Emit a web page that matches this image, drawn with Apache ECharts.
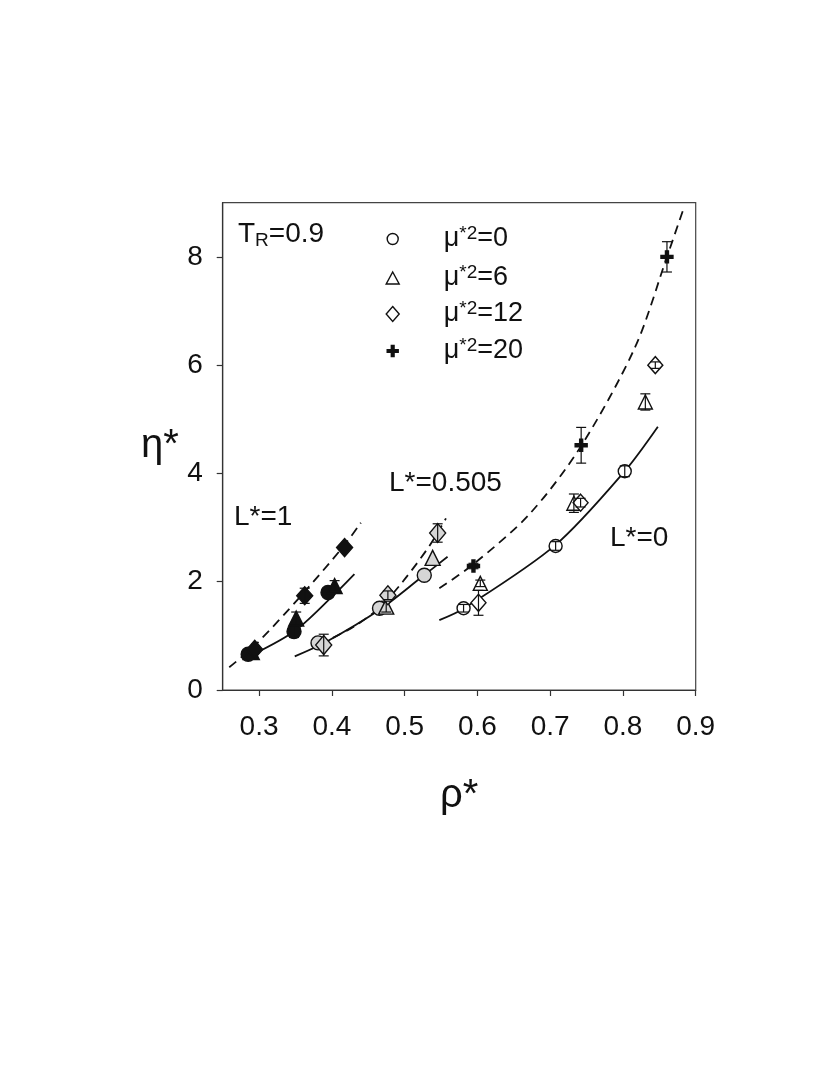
<!DOCTYPE html>
<html>
<head>
<meta charset="utf-8">
<script src="https://cdn.jsdelivr.net/npm/echarts@6/dist/echarts.min.js"></script>
<style>
html,body{margin:0;padding:0;background:#fff;}
#chart{width:817px;height:1090px;}
</style>
</head>
<body>
<div id="chart"></div>
<script>
// ---- data: [rho*, eta*, error] ----
// L* = 0 (open symbols)
const circL0 = [[0.581,1.51,0.07],[0.7075,2.66,0.08],[0.8025,4.04,0.10]];
const triL0  = [[0.604,1.97,0.06],[0.7326,3.45,0.17],[0.8308,5.32,0.15]];
const diaL0  = [[0.6015,1.61,0.23],[0.7418,3.46,0.08],[0.8445,6.00,0.06]];
const plusL0 = [[0.5946,2.29,0.05],[0.7426,4.52,0.33],[0.8605,8.00,0.28]];
// L* = 0.505 (grey symbols)
const circL505 = [[0.381,0.87,0],[0.4655,1.51,0],[0.527,2.12,0]];
const triL505  = [[0.4747,1.54,0.10],[0.5385,2.44,0]];
const diaL505  = [[0.3888,0.83,0.20],[0.477,1.75,0.08],[0.5454,2.90,0.17]];
// L* = 1 (filled symbols)
const circL1 = [[0.285,0.66,0],[0.348,1.08,0.11],[0.3947,1.80,0]];
const triL1  = [[0.290,0.70,0],[0.351,1.32,0.12],[0.4038,1.92,0.10]];
const diaL1  = [[0.294,0.75,0],[0.3627,1.74,0.14],[0.4175,2.63,0]];
// fitted curves
const curveL1Solid    = [[0.277,0.56],[0.347,1.07],[0.400,1.72],[0.431,2.14]];
const curveL1Dash     = [[0.259,0.42],[0.2947,0.83],[0.3563,1.72],[0.4157,2.65],[0.4399,3.09]];
const curveL505Solid  = [[0.349,0.62],[0.3925,0.89],[0.4655,1.48],[0.5248,2.10],[0.559,2.46]];
const curveL505Dash   = [[0.383,0.84],[0.430,1.17],[0.4655,1.52],[0.4974,2.00],[0.534,2.66],[0.5568,3.17]];
const curveL0Solid    = [[0.5477,1.29],[0.582,1.51],[0.7075,2.68],[0.8025,4.04],[0.848,4.86]];
const curveL0Dash     = [[0.5477,1.88],[0.5933,2.31],[0.671,3.24],[0.7418,4.49],[0.817,6.34],[0.8605,8.00],[0.8833,8.89]];
// axes
const xTicks = [0.3,0.4,0.5,0.6,0.7,0.8,0.9];
const yTicks = [0,2,4,6,8];
const legendNames = ['μ*²=0','μ*²=6','μ*²=12','μ*²=20'];

const FONT = "'Liberation Sans', Arial, Helvetica, sans-serif";
const INK = '#111';
const PLUS = 'path://M-1.5,-6H1.5V-1.5H6V1.5H1.5V6H-1.5V1.5H-6V-1.5H-1.5Z';

function scatter(name, data, symbol, size, fill, z) {
  return {
    type: 'scatter', name: name, data: data.map(d => [d[0], d[1]]),
    symbol: symbol, symbolSize: size, z: z || 3,
    itemStyle: { color: fill, borderColor: INK, borderWidth: 1.4, opacity: 1 },
    emphasis: { disabled: true }
  };
}
function errBars(data) {
  return {
    type: 'custom', z: 5, silent: true,
    data: data.filter(d => d[2] > 0).map(d => [d[0], d[1] - d[2], d[1] + d[2]]),
    renderItem: function (params, api) {
      const lo = api.coord([api.value(0), api.value(1)]);
      const hi = api.coord([api.value(0), api.value(2)]);
      const w = 5;
      const st = { stroke: INK, lineWidth: 1.2 };
      return { type: 'group', children: [
        { type: 'line', shape: { x1: lo[0], y1: lo[1], x2: hi[0], y2: hi[1] }, style: st },
        { type: 'line', shape: { x1: lo[0]-w, y1: lo[1], x2: lo[0]+w, y2: lo[1] }, style: st },
        { type: 'line', shape: { x1: hi[0]-w, y1: hi[1], x2: hi[0]+w, y2: hi[1] }, style: st }
      ]};
    }
  };
}
function curve(data, dashed) {
  return {
    type: 'line', data: data, smooth: 0.3, showSymbol: false, silent: true, z: 1,
    lineStyle: { color: INK, width: 1.8, type: dashed ? [9, 6] : 'solid' }
  };
}

const series = [
  curve(curveL1Solid, false), curve(curveL1Dash, true),
  curve(curveL505Solid, false), curve(curveL505Dash, true),
  curve(curveL0Solid, false), curve(curveL0Dash, true),
  scatter(legendNames[0], circL0, 'circle', 13, '#fff'),
  scatter(legendNames[1], triL0, 'triangle', 14, '#fff'),
  scatter(legendNames[2], diaL0, 'diamond', [15,17], '#fff'),
  scatter(legendNames[3], plusL0, PLUS, 12, INK),
  scatter('L505c', circL505, 'circle', 14, '#d6d6d6'),
  scatter('L505t', triL505, 'triangle', 15, '#d6d6d6'),
  scatter('L505d', diaL505, 'diamond', [16,19], '#d6d6d6', 4),
  scatter('L1c', circL1, 'circle', 14, INK),
  scatter('L1t', triL1, 'triangle', 15, INK),
  scatter('L1d', diaL1, 'diamond', [16,18], INK, 4),
  errBars(circL0), errBars(triL0), errBars(diaL0), errBars(plusL0),
  errBars(circL505), errBars(triL505), errBars(diaL505),
  errBars(circL1), errBars(triL1), errBars(diaL1)
];

const legendIcons = [
  { icon: 'circle', w: 11, h: 11, fill: '#fff' },
  { icon: 'triangle', w: 13, h: 12, fill: '#fff' },
  { icon: 'diamond', w: 13, h: 15, fill: '#fff' },
  { icon: PLUS, w: 11, h: 11, fill: INK }
];
const legendTops = [239, 278, 314, 351];
const legendNums = ['0', '6', '12', '20'];
const legends = legendNames.map((n, i) => ({
  data: [{ name: n, icon: legendIcons[i].icon,
           itemStyle: { color: legendIcons[i].fill, borderColor: INK, borderWidth: 1.4 } }],
  orient: 'vertical', left: 392 - legendIcons[i].w / 2, top: legendTops[i] - 15,
  padding: 0, itemWidth: legendIcons[i].w, itemHeight: legendIcons[i].h,
  selectedMode: false,
  formatter: () => '{g|}{m|μ}{s|*2}{m|=' + legendNums[i] + '}',
  textStyle: {
    color: INK, fontFamily: FONT, fontSize: 27,
    rich: {
      g: { width: 46 - legendIcons[i].w / 2 },
      m: { fontSize: 27, fontFamily: FONT, color: INK, lineHeight: 30 },
      s: { fontSize: 19, fontFamily: FONT, color: INK, verticalAlign: 'top', lineHeight: 19 }
    }
  }
}));

const chart = echarts.init(document.getElementById('chart'), null, { renderer: 'canvas' });
chart.setOption({
  backgroundColor: '#fff',
  animation: false,
  grid: { left: 222.7, right: 121.3, top: 202.7, bottom: 400, show: true,
          borderColor: '#444', borderWidth: 1.2, backgroundColor: 'transparent' },
  legend: legends,
  xAxis: {
    type: 'value', min: 0.25, max: 0.9,
    name: 'ρ*', nameLocation: 'middle', nameGap: 86,
    nameTextStyle: { fontSize: 40, fontFamily: FONT, color: INK },
    axisLine: { show: true, lineStyle: { color: '#333', width: 1.2 } },
    axisTick: { show: true, inside: false, length: 6, customValues: xTicks, lineStyle: { color: '#333', width: 1.2 } },
    axisLabel: { customValues: xTicks, margin: 23, fontSize: 28, fontFamily: FONT, color: INK,
                 formatter: v => v.toFixed(1) },
    splitLine: { show: false }
  },
  yAxis: {
    type: 'value', min: 0, max: 9,
    name: 'η*', nameLocation: 'middle', nameRotate: 0, nameGap: 44,
    nameTextStyle: { fontSize: 40, fontFamily: FONT, color: INK },
    axisLine: { show: true, lineStyle: { color: '#333', width: 1.2 } },
    axisTick: { show: true, inside: false, length: 6, customValues: yTicks, lineStyle: { color: '#333', width: 1.2 } },
    axisLabel: { customValues: yTicks, margin: 20, fontSize: 28, fontFamily: FONT, color: INK },
    splitLine: { show: false }
  },
  graphic: [
    { type: 'text', left: 238, top: 220, silent: true,
      style: { text: '{t|T}{b|R}{t|=0.9}', font: '28px ' + FONT, fill: INK,
        rich: { t: { fontSize: 28, fontFamily: FONT, fill: INK, lineHeight: 32 },
                b: { fontSize: 19, fontFamily: FONT, fill: INK, verticalAlign: 'bottom', lineHeight: 19 } } } },
    { type: 'text', left: 234, top: 503, silent: true,
      style: { text: 'L*=1', font: '28px ' + FONT, fill: INK } },
    { type: 'text', left: 389, top: 469, silent: true,
      style: { text: 'L*=0.505', font: '28px ' + FONT, fill: INK } },
    { type: 'text', left: 610, top: 524, silent: true,
      style: { text: 'L*=0', font: '28px ' + FONT, fill: INK } }
  ],
  series: series
});
</script>
</body>
</html>
